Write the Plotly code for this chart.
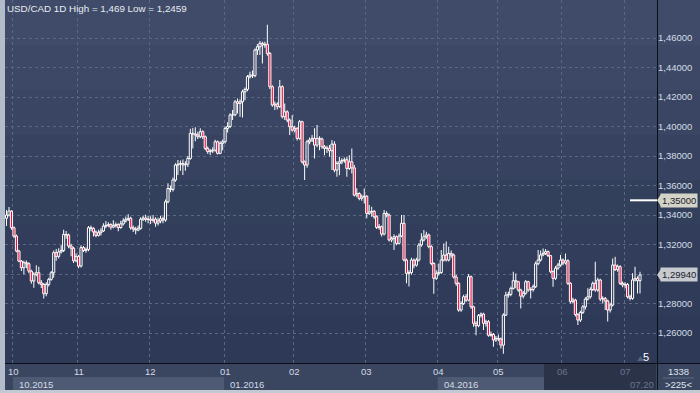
import plotly.graph_objects as go

# ---------------- data ----------------
opens = [
    1.3378, 1.3400, 1.3427, 1.3314, 1.3258, 1.3156, 1.3088, 1.3043, 1.3077, 1.3070,
    1.3020, 1.2953, 1.2998, 1.3009, 1.2941, 1.2930, 1.2867, 1.2930, 1.2964, 1.3009,
    1.3145, 1.3120, 1.3150, 1.3160, 1.3269, 1.3265, 1.3190, 1.3175, 1.3090, 1.3120,
    1.3054, 1.3179, 1.3160, 1.3167, 1.3314, 1.3310, 1.3285, 1.3262, 1.3280, 1.3292,
    1.3325, 1.3330, 1.3335, 1.3318, 1.3330, 1.3335, 1.3315, 1.3340, 1.3360, 1.3371,
    1.3378, 1.3314, 1.3305, 1.3298, 1.3310, 1.3372, 1.3380, 1.3370, 1.3372, 1.3365,
    1.3372, 1.3345, 1.3360, 1.3375, 1.3366, 1.3490, 1.3580, 1.3573, 1.3637, 1.3739,
    1.3745, 1.3750, 1.3740, 1.3745, 1.3784, 1.3954, 1.3950, 1.3943, 1.3931, 1.3965,
    1.3931, 1.3852, 1.3830, 1.3835, 1.3840, 1.3897, 1.3818, 1.3886, 1.3897, 1.3987,
    1.4000, 1.4078, 1.4080, 1.4168, 1.4157, 1.4168, 1.4236, 1.4252, 1.4338, 1.4349,
    1.4345, 1.4519, 1.4541, 1.4564, 1.4553, 1.4558, 1.4496, 1.4270, 1.4146, 1.4152,
    1.4135, 1.4270, 1.4067, 1.4100, 1.4044, 1.3999, 1.3976, 1.3988, 1.3920, 1.4033,
    1.3761, 1.3739, 1.3897, 1.3909, 1.3920, 1.3874, 1.3920, 1.3915, 1.3863, 1.3852,
    1.3853, 1.3836, 1.3881, 1.3705, 1.3750, 1.3761, 1.3770, 1.3775, 1.3716, 1.3761,
    1.3720, 1.3535, 1.3546, 1.3513, 1.3524, 1.3528, 1.3411, 1.3422, 1.3425, 1.3389,
    1.3316, 1.3321, 1.3271, 1.3411, 1.3400, 1.3231, 1.3242, 1.3253, 1.3208, 1.3258,
    1.3344, 1.3095, 1.3005, 1.3010, 1.3095, 1.3060, 1.3095, 1.3197, 1.3231, 1.3253,
    1.3265, 1.3186, 1.3072, 1.2971, 1.3005, 1.3010, 1.3095, 1.3129, 1.3095, 1.3140,
    1.3129, 1.2980, 1.2937, 1.2756, 1.2800, 1.2846, 1.2823, 1.2982, 1.2778, 1.2666,
    1.2650, 1.2718, 1.2729, 1.2666, 1.2677, 1.2585, 1.2590, 1.2553, 1.2564, 1.2560,
    1.2518, 1.2722, 1.2857, 1.2862, 1.2903, 1.2955, 1.2948, 1.2892, 1.2850, 1.2870,
    1.2948, 1.2892, 1.2895, 1.2914, 1.3070, 1.3095, 1.3130, 1.3140, 1.3152, 1.3125,
    1.3016, 1.2971, 1.3040, 1.3061, 1.3095, 1.3075, 1.3090, 1.2937, 1.2813, 1.2824,
    1.2725, 1.2688, 1.2740, 1.2778, 1.2830, 1.2846, 1.2895, 1.2937, 1.2892, 1.2960,
    1.2830, 1.2835, 1.2818, 1.2756, 1.2790, 1.3061, 1.3030, 1.3050, 1.2937, 1.2926,
    1.2930, 1.2846, 1.2835, 1.2960, 1.2971, 1.2955,
]
highs = [
    1.3435, 1.3454, 1.3432, 1.3322, 1.3268, 1.3165, 1.3095, 1.3090, 1.3092, 1.3080,
    1.3030, 1.3012, 1.3060, 1.3050, 1.2960, 1.2940, 1.2945, 1.2975, 1.3020, 1.3160,
    1.3170, 1.3175, 1.3195, 1.3300, 1.3292, 1.3275, 1.3205, 1.3185, 1.3140, 1.3130,
    1.3195, 1.3190, 1.3180, 1.3325, 1.3330, 1.3318, 1.3295, 1.3300, 1.3310, 1.3345,
    1.3360, 1.3352, 1.3345, 1.3365, 1.3350, 1.3345, 1.3362, 1.3378, 1.3390, 1.3405,
    1.3388, 1.3330, 1.3320, 1.3330, 1.3385, 1.3395, 1.3402, 1.3395, 1.3392, 1.3400,
    1.3385, 1.3382, 1.3395, 1.3390, 1.3505, 1.3615, 1.3600, 1.3655, 1.3752, 1.3773,
    1.3770, 1.3777, 1.3765, 1.3800, 1.3985, 1.3990, 1.3995, 1.3965, 1.3988, 1.3975,
    1.3940, 1.3865, 1.3848, 1.3860, 1.3910, 1.3905, 1.3900, 1.3912, 1.4000, 1.4030,
    1.4090, 1.4112, 1.4180, 1.4190, 1.4185, 1.4250, 1.4265, 1.4350, 1.4372, 1.4380,
    1.4530, 1.4560, 1.4580, 1.4575, 1.4575, 1.4690, 1.4505, 1.4280, 1.4170, 1.4165,
    1.4315, 1.4280, 1.4157, 1.4110, 1.4055, 1.4078, 1.4005, 1.3995, 1.4045, 1.4040,
    1.3770, 1.3910, 1.3925, 1.3942, 1.3988, 1.4010, 1.3935, 1.3925, 1.3875, 1.3870,
    1.3875, 1.3909, 1.3900, 1.3765, 1.3796, 1.3785, 1.3790, 1.3796, 1.3806, 1.3852,
    1.3740, 1.3581, 1.3555, 1.3540, 1.3580, 1.3535, 1.3468, 1.3456, 1.3435, 1.3398,
    1.3340, 1.3330, 1.3434, 1.3425, 1.3410, 1.3255, 1.3270, 1.3262, 1.3275, 1.3400,
    1.3400, 1.3105, 1.3025, 1.3110, 1.3105, 1.3110, 1.3210, 1.3276, 1.3298, 1.3287,
    1.3275, 1.3195, 1.3080, 1.3025, 1.3072, 1.3163, 1.3208, 1.3221, 1.3185, 1.3160,
    1.3140, 1.2995, 1.2945, 1.2815, 1.2860, 1.2865, 1.3000, 1.2990, 1.2785, 1.2680,
    1.2730, 1.2740, 1.2738, 1.2690, 1.2688, 1.2610, 1.2600, 1.2580, 1.2590, 1.2570,
    1.2735, 1.2880, 1.2880, 1.2915, 1.3016, 1.3004, 1.2955, 1.2900, 1.2885, 1.2960,
    1.2955, 1.2910, 1.2930, 1.3085, 1.3163, 1.3160, 1.3174, 1.3170, 1.3160, 1.3130,
    1.3025, 1.3055, 1.3075, 1.3129, 1.3105, 1.3140, 1.3100, 1.2945, 1.2840, 1.2832,
    1.2735, 1.2752, 1.2790, 1.2842, 1.2903, 1.2910, 1.2950, 1.3083, 1.2975, 1.2968,
    1.2850, 1.2845, 1.2825, 1.2805, 1.3106, 1.3118, 1.3065, 1.3060, 1.2950, 1.2945,
    1.2940, 1.2860, 1.3005, 1.3050, 1.2985, 1.3016,
]
lows = [
    1.3325, 1.3390, 1.3300, 1.3245, 1.3148, 1.3080, 1.3020, 1.2998, 1.3040, 1.3005,
    1.2935, 1.2907, 1.2985, 1.2930, 1.2905, 1.2835, 1.2850, 1.2915, 1.2955, 1.2975,
    1.3090, 1.3105, 1.3140, 1.3150, 1.3240, 1.3175, 1.3120, 1.3075, 1.3080, 1.3040,
    1.3045, 1.3150, 1.3145, 1.3155, 1.3290, 1.3255, 1.3250, 1.3255, 1.3262, 1.3285,
    1.3310, 1.3318, 1.3300, 1.3310, 1.3315, 1.3290, 1.3308, 1.3330, 1.3350, 1.3360,
    1.3300, 1.3285, 1.3270, 1.3290, 1.3300, 1.3360, 1.3355, 1.3345, 1.3340, 1.3350,
    1.3320, 1.3330, 1.3345, 1.3345, 1.3355, 1.3480, 1.3555, 1.3560, 1.3625, 1.3672,
    1.3700, 1.3672, 1.3700, 1.3725, 1.3775, 1.3852, 1.3900, 1.3915, 1.3920, 1.3915,
    1.3840, 1.3815, 1.3808, 1.3820, 1.3830, 1.3810, 1.3812, 1.3840, 1.3885, 1.3960,
    1.3990, 1.4044, 1.4070, 1.4089, 1.4067, 1.4062, 1.4179, 1.4240, 1.4325, 1.4330,
    1.4335, 1.4485, 1.4485, 1.4428, 1.4535, 1.4480, 1.4255, 1.4135, 1.4112, 1.4115,
    1.4125, 1.4055, 1.4044, 1.4030, 1.3942, 1.3965, 1.3960, 1.3905, 1.3910, 1.3750,
    1.3637, 1.3720, 1.3880, 1.3895, 1.3784, 1.3860, 1.3840, 1.3850, 1.3806, 1.3820,
    1.3796, 1.3705, 1.3690, 1.3660, 1.3670, 1.3745, 1.3755, 1.3660, 1.3705, 1.3682,
    1.3525, 1.3520, 1.3500, 1.3497, 1.3479, 1.3378, 1.3400, 1.3389, 1.3375, 1.3305,
    1.3300, 1.3255, 1.3262, 1.3385, 1.3220, 1.3215, 1.3163, 1.3195, 1.3200, 1.3250,
    1.3085, 1.2937, 1.2915, 1.2995, 1.3040, 1.3050, 1.3085, 1.3185, 1.3220, 1.3240,
    1.3175, 1.3060, 1.2866, 1.2960, 1.2990, 1.3000, 1.3085, 1.3085, 1.3085, 1.3110,
    1.2970, 1.2920, 1.2745, 1.2745, 1.2790, 1.2810, 1.2815, 1.2765, 1.2643, 1.2585,
    1.2640, 1.2705, 1.2620, 1.2643, 1.2575, 1.2575, 1.2507, 1.2540, 1.2545, 1.2495,
    1.2459, 1.2715, 1.2840, 1.2850, 1.2895, 1.2903, 1.2880, 1.2767, 1.2835, 1.2860,
    1.2880, 1.2835, 1.2880, 1.2905, 1.3060, 1.3085, 1.3120, 1.3130, 1.3115, 1.3005,
    1.2914, 1.2960, 1.3030, 1.3050, 1.3060, 1.3065, 1.2925, 1.2800, 1.2800, 1.2712,
    1.2655, 1.2675, 1.2730, 1.2760, 1.2820, 1.2835, 1.2885, 1.2880, 1.2880, 1.2815,
    1.2800, 1.2756, 1.2678, 1.2740, 1.2780, 1.3020, 1.3015, 1.2925, 1.2910, 1.2903,
    1.2835, 1.2820, 1.2825, 1.2950, 1.2869, 1.2869,
]
closes = [
    1.3400, 1.3427, 1.3314, 1.3258, 1.3156, 1.3088, 1.3043, 1.3077, 1.3070, 1.3020,
    1.2953, 1.2998, 1.3009, 1.2941, 1.2930, 1.2867, 1.2930, 1.2964, 1.3009, 1.3145,
    1.3120, 1.3150, 1.3160, 1.3269, 1.3265, 1.3190, 1.3175, 1.3090, 1.3120, 1.3054,
    1.3179, 1.3160, 1.3167, 1.3314, 1.3310, 1.3285, 1.3262, 1.3280, 1.3292, 1.3325,
    1.3330, 1.3335, 1.3318, 1.3330, 1.3335, 1.3315, 1.3340, 1.3360, 1.3371, 1.3378,
    1.3314, 1.3305, 1.3298, 1.3310, 1.3372, 1.3380, 1.3370, 1.3372, 1.3365, 1.3372,
    1.3345, 1.3360, 1.3375, 1.3366, 1.3490, 1.3580, 1.3573, 1.3637, 1.3739, 1.3745,
    1.3750, 1.3740, 1.3745, 1.3784, 1.3954, 1.3950, 1.3943, 1.3931, 1.3965, 1.3931,
    1.3852, 1.3830, 1.3835, 1.3840, 1.3897, 1.3818, 1.3886, 1.3897, 1.3987, 1.4000,
    1.4078, 1.4080, 1.4168, 1.4157, 1.4168, 1.4236, 1.4252, 1.4338, 1.4349, 1.4345,
    1.4519, 1.4541, 1.4564, 1.4553, 1.4558, 1.4496, 1.4270, 1.4146, 1.4152, 1.4135,
    1.4270, 1.4067, 1.4100, 1.4044, 1.3999, 1.3976, 1.3988, 1.3920, 1.4033, 1.3761,
    1.3739, 1.3897, 1.3909, 1.3920, 1.3874, 1.3920, 1.3915, 1.3863, 1.3852, 1.3853,
    1.3836, 1.3881, 1.3705, 1.3750, 1.3761, 1.3770, 1.3775, 1.3716, 1.3761, 1.3720,
    1.3535, 1.3546, 1.3513, 1.3524, 1.3528, 1.3411, 1.3422, 1.3425, 1.3389, 1.3316,
    1.3321, 1.3271, 1.3411, 1.3400, 1.3231, 1.3242, 1.3253, 1.3208, 1.3258, 1.3344,
    1.3095, 1.3005, 1.3010, 1.3095, 1.3060, 1.3095, 1.3197, 1.3231, 1.3253, 1.3265,
    1.3186, 1.3072, 1.2971, 1.3005, 1.3010, 1.3095, 1.3129, 1.3095, 1.3140, 1.3129,
    1.2980, 1.2937, 1.2756, 1.2800, 1.2846, 1.2823, 1.2982, 1.2778, 1.2666, 1.2650,
    1.2718, 1.2729, 1.2666, 1.2677, 1.2585, 1.2590, 1.2553, 1.2564, 1.2560, 1.2518,
    1.2722, 1.2857, 1.2862, 1.2903, 1.2955, 1.2948, 1.2892, 1.2850, 1.2870, 1.2948,
    1.2892, 1.2895, 1.2914, 1.3070, 1.3095, 1.3130, 1.3140, 1.3152, 1.3125, 1.3016,
    1.2971, 1.3040, 1.3061, 1.3095, 1.3075, 1.3090, 1.2937, 1.2813, 1.2824, 1.2725,
    1.2688, 1.2740, 1.2778, 1.2830, 1.2846, 1.2895, 1.2937, 1.2892, 1.2960, 1.2830,
    1.2835, 1.2818, 1.2756, 1.2790, 1.3061, 1.3030, 1.3050, 1.2937, 1.2926, 1.2930,
    1.2846, 1.2835, 1.2960, 1.2971, 1.2955, 1.2994,
]

month_labels = ["10", "11", "12", "01", "02", "03", "04", "05", "06", "07"]
month_start = [3, 29, 58, 88, 116, 145, 174, 198, 224, 249]
quarter_labels = ["10.2015", "01.2016", "04.2016", "07.20"]
quarter_start = [3, 88, 174, 249]
price_ticks = [1.26, 1.28, 1.30, 1.32, 1.34, 1.36, 1.38, 1.40, 1.42, 1.44, 1.46]
level_price = 1.35
title_text = "USD/CAD 1D High = 1,469 Low = 1,2459"
counter_top = "1338"
counter_bottom = ">225<"
bars_badge = "5"

# ---------------- geometry / style ----------------
W, H = 700, 393
ML, MR, MT, MB = 5, 43, 0, 30
PW = W - ML - MR
PH = H - MT - MB
N = len(closes)
idx = list(range(N))
spacing = (640 - 6.5) / (N - 1)
XMIN = -(6.5 - ML) / spacing
XMAX = (N - 1) + (ML + PW - 640) / spacing
YMIN, YMAX = 1.2397, 1.4858
FONT = "Liberation Sans, Arial, sans-serif"
BODY_W = 0.86
WICK_W = 1.0 / spacing
MIN_BODY = 0.00008


def xp(px):
    return (px - ML) / PW


def yp(py):
    return (H - MB - py) / PH


def px2idx(px):
    return XMIN + (px - ML) / PW * (XMAX - XMIN)


def fmt(v):
    return f"{v:.5f}".replace(".", ",")


body_top = [max(o, c) for o, c in zip(opens, closes)]
body_bot = [min(o, c) for o, c in zip(opens, closes)]
up = [i for i in idx if closes[i] >= opens[i]]
dn = [i for i in idx if closes[i] < opens[i]]

fig = go.Figure()
fig.add_trace(go.Bar(x=idx, base=body_top, y=[h - t for h, t in zip(highs, body_top)],
                     width=WICK_W, marker=dict(color="#ffffff", line=dict(width=0)),
                     hoverinfo="skip", showlegend=False))
fig.add_trace(go.Bar(x=idx, base=lows, y=[b - l for b, l in zip(body_bot, lows)],
                     width=WICK_W, marker=dict(color="#ffffff", line=dict(width=0)),
                     hoverinfo="skip", showlegend=False))
fig.add_trace(go.Bar(x=up, base=[opens[i] for i in up],
                     y=[max(closes[i] - opens[i], MIN_BODY) for i in up],
                     width=BODY_W, marker=dict(color="rgba(40,52,80,0.45)", line=dict(color="#ffffff", width=1)),
                     hoverinfo="skip", showlegend=False))
fig.add_trace(go.Bar(x=dn, base=[closes[i] for i in dn],
                     y=[max(opens[i] - closes[i], MIN_BODY) for i in dn],
                     width=BODY_W, marker=dict(color="#ee0f3d", line=dict(color="#ffffff", width=1)),
                     hoverinfo="skip", showlegend=False))

shapes = []
band_edges = [0, 45, 90, 135, 180, 225, 270, 315, 363]
band_colors = ["#3f4b68", "#3c4865", "#394562", "#36425f", "#33405c", "#313d5a", "#2f3b58", "#2d3956"]
for i, c in enumerate(band_colors):
    shapes.append(dict(type="rect", xref="paper", yref="paper", x0=xp(ML), x1=xp(W),
                       y0=yp(band_edges[i + 1]), y1=yp(band_edges[i]),
                       fillcolor=c, line=dict(width=0), layer="below"))
shapes.append(dict(type="rect", xref="paper", yref="paper", x0=xp(0), x1=xp(ML), y0=yp(H), y1=yp(0),
                   fillcolor="#b3bccb", line=dict(width=0), layer="below"))
shapes.append(dict(type="rect", xref="paper", yref="paper", x0=xp(ML), x1=xp(W), y0=yp(H), y1=yp(363),
                   fillcolor="#3a4560", line=dict(width=0), layer="below"))
shapes.append(dict(type="rect", xref="x", yref="paper", x0=quarter_start[0] - 0.4, x1=quarter_start[1] - 0.4,
                   y0=yp(390), y1=yp(377), fillcolor="#4e5a73", line=dict(width=0), layer="below"))
shapes.append(dict(type="rect", xref="x", yref="paper", x0=quarter_start[2] - 0.4, x1=px2idx(544),
                   y0=yp(390), y1=yp(377), fillcolor="#4e5a73", line=dict(width=0), layer="below"))
shapes.append(dict(type="rect", xref="paper", yref="paper", x0=xp(544), x1=xp(656), y0=yp(390), y1=yp(364),
                   fillcolor="#2a3348", line=dict(width=0), layer="below"))
shapes.append(dict(type="rect", xref="paper", yref="paper", x0=xp(0), x1=xp(W), y0=yp(H), y1=yp(390),
                   fillcolor="#c3c9d2", line=dict(width=0), layer="below"))
shapes.append(dict(type="line", xref="paper", yref="paper", x0=xp(ML), x1=xp(W), y0=yp(363.5), y1=yp(363.5),
                   line=dict(color="#0b0f17", width=1)))
shapes.append(dict(type="line", xref="paper", yref="paper", x0=xp(657.5), x1=xp(657.5), y0=yp(390), y1=yp(0),
                   line=dict(color="#0b0f17", width=1)))
shapes.append(dict(type="line", xref="paper", yref="paper", x0=xp(663), x1=xp(694), y0=yp(378), y1=yp(378),
                   line=dict(color="#5d6982", width=1)))
shapes.append(dict(type="line", xref="paper", yref="y", x0=xp(630), x1=xp(657), y0=level_price, y1=level_price,
                   line=dict(color="#ffffff", width=2)))
dpt = 6 / 1475.0
for v, col in [(level_price, "#d3d3c7"), (closes[-1], "#c7cacf")]:
    shapes.append(dict(type="path", xref="paper", yref="y",
                       path=f"M {xp(657)},{v} L {xp(661)},{v + dpt} L {xp(661)},{v - dpt} Z",
                       fillcolor=col, line=dict(width=0)))
shapes.append(dict(type="path", xref="paper", yref="paper",
                   path=f"M {xp(637)},{yp(361)} L {xp(640.5)},{yp(356)} L {xp(644)},{yp(361)} Z",
                   fillcolor="#5a627a", line=dict(width=0)))

annotations = []
annotations.append(dict(text=title_text, xref="paper", yref="paper", x=xp(5), y=yp(8.5),
                        xanchor="left", yanchor="middle", showarrow=False,
                        font=dict(family=FONT, size=9.8, color="#e9edf3")))
dim_from = px2idx(544)
for lab, pos in zip(month_labels, month_start):
    col = "#6a758c" if pos > dim_from else "#d4dbe6"
    annotations.append(dict(text=lab, xref="x", yref="paper", x=pos, y=yp(372),
                            xanchor="center", yanchor="middle", showarrow=False,
                            font=dict(family=FONT, size=9.5, color=col)))
for lab, pos in zip(quarter_labels, quarter_start):
    col = "#6a758c" if pos > dim_from else "#d4dbe6"
    annotations.append(dict(text=lab, xref="x", yref="paper", x=pos, y=yp(384), xshift=3,
                            xanchor="left", yanchor="middle", showarrow=False,
                            font=dict(family=FONT, size=9.5, color=col)))
for v, col in [(level_price, "#d3d3c7"), (closes[-1], "#c7cacf")]:
    annotations.append(dict(text=fmt(v), xref="paper", yref="y", x=xp(660), y=v,
                            xanchor="left", yanchor="middle", showarrow=False, bgcolor=col,
                            borderpad=1, font=dict(family=FONT, size=9.5, color="#1b212c")))
annotations.append(dict(text=bars_badge, xref="paper", yref="paper", x=xp(646), y=yp(357),
                        xanchor="center", yanchor="middle", showarrow=False,
                        font=dict(family=FONT, size=11, color="#ffffff")))
annotations.append(dict(text=counter_top, xref="paper", yref="paper", x=xp(678), y=yp(371),
                        xanchor="center", yanchor="middle", showarrow=False,
                        font=dict(family=FONT, size=9.5, color="#dfe5ee")))
annotations.append(dict(text=counter_bottom, xref="paper", yref="paper", x=xp(678), y=yp(384),
                        xanchor="center", yanchor="middle", showarrow=False,
                        font=dict(family=FONT, size=9.5, color="#dfe5ee")))

tick_text = [fmt(v) if abs(v - closes[-1]) > 0.004 else "" for v in price_ticks]

fig.update_layout(
    width=W, height=H,
    margin=dict(l=ML, r=MR, t=MT, b=MB, pad=0),
    paper_bgcolor="#36425d",
    plot_bgcolor="rgba(0,0,0,0)",
    hovermode=False,
    showlegend=False,
    barmode="overlay",
    shapes=shapes,
    annotations=annotations,
    font=dict(family=FONT),
    xaxis=dict(range=[XMIN, XMAX], tickvals=[m - 0.4 for m in month_start], showticklabels=False,
               showgrid=True, gridcolor="#5a6783", griddash="3px,3px", gridwidth=1,
               zeroline=False, showline=False, ticks="", fixedrange=True),
    yaxis=dict(side="right", range=[YMIN, YMAX], tickvals=price_ticks, ticktext=tick_text,
               tickfont=dict(family=FONT, size=9.5, color="#d5dce7"),
               showgrid=True, gridcolor="#5a6783", griddash="3px,3px", gridwidth=1,
               zeroline=False, showline=False, ticks="", fixedrange=True),
)

fig.write_html("out.html", config={"displayModeBar": False, "staticPlot": True},
               post_script="document.body.style.margin='0';document.body.style.overflow='hidden';")
